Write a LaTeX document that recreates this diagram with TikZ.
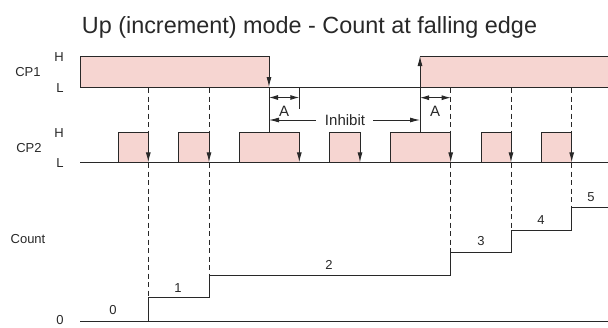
\documentclass[tikz,border=0pt]{standalone}
\usepackage{fontspec}
\setmainfont{Liberation Sans}
\usetikzlibrary{arrows.meta}
\definecolor{pulse}{RGB}{246,213,209}
\definecolor{ink}{RGB}{40,40,40}
\begin{document}
\begin{tikzpicture}[x=1pt,y=-1pt,
  sig/.style={draw=ink,line width=0.9pt},
  pulsebox/.style={draw=ink,fill=pulse,line width=0.9pt},
  edgearrow/.style={draw=ink,line width=0.9pt,-{Latex[length=10pt,width=5pt]}},
  dimarrow/.style={draw=ink,line width=0.9pt,{Latex[length=9pt,width=5pt]}-{Latex[length=9pt,width=5pt]}},
  guide/.style={draw=ink,line width=0.9pt,dash pattern=on 5pt off 3.5pt},
  lab/.style={font=\fontsize{13}{15}\selectfont,text=ink,inner sep=0pt},
  biglab/.style={font=\fontsize{15}{17}\selectfont,text=ink,inner sep=0pt},
]
\useasboundingbox (0,0) rectangle (608,327);
% title
\node[anchor=base,inner sep=0pt,text=ink,font=\fontsize{23.4}{26}\selectfont] (title) at (309.5,33) {Up (increment) mode - Count at falling edge};
% side labels
\node[lab] (cp1) at (28,72) {CP1};
\node[lab] (cp1h) at (59,57) {H};
\node[lab] (cp1l) at (60,88) {L};
\node[lab] (cp2) at (29,148) {CP2};
\node[lab] (cp2h) at (59,133) {H};
\node[lab] (cp2l) at (60,163) {L};
\node[lab] (cnt) at (28,239) {Count};
\node[lab] (zero) at (60,320) {0};
% CP1
\fill[pulse] (80,56) rectangle (269,87);
\fill[pulse] (420,56) rectangle (608,87);
\draw[sig] (269,56) -- (80,56) -- (80,87);
\draw[sig] (80,87) -- (608,87);
\draw[sig] (608,56) -- (420,56);
\draw[edgearrow] (269,56) -- (269,87);
\draw[sig] (269,87) -- (269,132);
\draw[edgearrow] (420,132) -- (420,56);
% CP2 pulses
\draw[sig] (80,162.3) -- (608,162.3);
\foreach \r/\f in {118.3/148.3,178.3/209,239/299.3,329.3/360,390/450.7,481/511,541/571.7}{
  \fill[pulse] (\r,132) rectangle (\f,162.3);
  \draw[sig] (\r,162.3) -- (\r,132) -- (\f,132);
  \draw[edgearrow] (\f,132) -- (\f,162.3);
}
% dashed guides
\foreach \f/\lv in {148.3/297.7,209/275.7,450.7/252.7,511/230.3,571.7/207.7}{
  \draw[guide] (\f,88) -- (\f,132);
  \draw[guide] (\f,163) -- (\f,\lv);
}
% dimensions A and Inhibit
\draw[dimarrow] (269,97.5) -- (299.3,97.5);
\draw[sig] (299.3,87) -- (299.3,109);
\node[biglab] (a1) at (284,111) {A};
\draw[dimarrow] (420,97.7) -- (450.7,97.7);
\node[biglab] (a2) at (435,111) {A};
\node[biglab] (inh) at (345,120) {Inhibit};
\coordinate (inhL) at (269,120);
\coordinate (inhR) at (420,120);
\draw[edgearrow] (inh.west) ++(-9,0) -- (inhL);
\draw[edgearrow] (inh.east) ++(8,0) -- (inhR);
% count staircase
\draw[sig] (80,321.7) -- (608,321.7);
\draw[sig] (148.3,321.7) -- (148.3,297.7) -- (209,297.7) -- (209,275.7) -- (450.7,275.7) -- (450.7,252.7) -- (511,252.7) -- (511,230.3) -- (571.7,230.3) -- (571.7,207.7) -- (608,207.7);
\node[lab] (c0) at (113,310) {0};
\node[lab] (c1) at (178,288) {1};
\node[lab] (c2) at (329,265) {2};
\node[lab] (c3) at (481,241) {3};
\node[lab] (c4) at (541,220) {4};
\node[lab] (c5) at (591,197) {5};
\end{tikzpicture}
\end{document}
